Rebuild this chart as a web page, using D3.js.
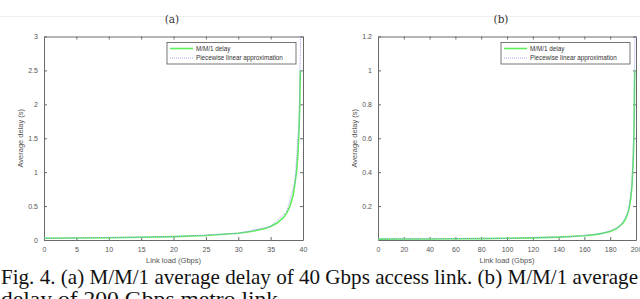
<!DOCTYPE html>
<html>
<head>
<meta charset="utf-8">
<script src="https://cdn.jsdelivr.net/npm/d3@7"></script>
<style>
  body { margin: 0; background: #fff; }
  svg { display: block; }
</style>
</head>
<body>
<div id="chart"></div>
<script>
// panel (a): 40 Gbps access link
const loadA = [0, 5, 10, 15, 20, 25, 30, 32, 34, 35, 36, 37, 37.5, 38, 38.5, 39, 39.2, 39.4, 39.5, 39.6]
const delayA = [0.025, 0.029, 0.033, 0.04, 0.05, 0.067, 0.1, 0.125, 0.167, 0.2, 0.25, 0.333, 0.4, 0.5, 0.667, 1.0, 1.25, 1.667, 2.0, 2.5]
const approxLoadA = [0, 20, 30, 35, 37.5, 38.75, 39.4, 39.7]
const approxDelayA = [0.025, 0.05, 0.1, 0.2, 0.42, 0.85, 1.75, 3.3]
const xTicksA = [0, 5, 10, 15, 20, 25, 30, 35, 40]
const yTicksA = [0, 0.5, 1, 1.5, 2, 2.5, 3]

// panel (b): 200 Gbps metro link
const loadB = [0, 20, 40, 60, 80, 100, 120, 140, 160, 170, 180, 185, 190, 192, 194, 195, 196, 197, 198, 198.5, 199]
const delayB = [0.005, 0.0056, 0.0063, 0.0071, 0.0083, 0.01, 0.0125, 0.0167, 0.025, 0.033, 0.05, 0.067, 0.1, 0.125, 0.167, 0.2, 0.25, 0.333, 0.5, 0.667, 1.0]
const approxLoadB = [0, 100, 150, 175, 187.5, 193.75, 196.9, 198.4, 199.3]
const approxDelayB = [0.005, 0.01, 0.02, 0.04, 0.08, 0.16, 0.32, 0.64, 1.3]
const xTicksB = [0, 20, 40, 60, 80, 100, 120, 140, 160, 180, 200]
const yTicksB = [0.2, 0.4, 0.6, 0.8, 1, 1.2]

const legendLabels = ['M/M/1 delay', 'Piecewise linear approximation']
const caption1 = 'Fig. 4. (a) M/M/1 average delay of 40 Gbps access link. (b) M/M/1 average'
const caption2 = 'delay of 200 Gbps metro link.'

const width = 640
const height = 299
const axisColor = '#6a6a6a'
const greenColor = '#5ded5d'
const blueColor = '#8c8cf5'
const tickFont = 'Liberation Sans, Arial, sans-serif'
const numFormat = d3.format('~g')

const svg = d3.select('#chart').append('svg')
    .attr('width', width)
    .attr('height', height)

// faint rule under the previous text block
svg.append('line')
    .attr('x1', 0).attr('x2', width)
    .attr('y1', 16.5).attr('y2', 16.5)
    .attr('stroke', '#eeeeee')

function drawPanel (opts) {
    const x = d3.scaleLinear().domain(opts.xDomain).range([opts.left, opts.right])
    const y = d3.scaleLinear().domain(opts.yDomain).range([opts.bottom, opts.top])
    const g = svg.append('g')

    // title
    svg.append('text')
        .attr('x', opts.titleX)
        .attr('y', 23)
        .attr('text-anchor', 'middle')
        .attr('font-family', 'DejaVu Serif, Liberation Serif, serif')
        .attr('font-size', 10.5)
        .attr('fill', '#333')
        .text(opts.title)

    const clipId = 'clip-' + opts.title.replace(/\W/g, '')
    svg.append('clipPath').attr('id', clipId)
        .append('rect')
        .attr('x', opts.left).attr('y', opts.top)
        .attr('width', opts.right - opts.left).attr('height', opts.bottom - opts.top)

    // axes, MATLAB style: inward ticks on all four sides
    const axisBottom = d3.axisBottom(x).tickValues(opts.xTicks).tickFormat(numFormat)
        .tickSizeInner(-3).tickSizeOuter(0).tickPadding(7)
    const axisTop = d3.axisTop(x).tickValues(opts.xTicks).tickSizeInner(-3).tickSizeOuter(0).tickFormat('')
    const axisLeft = d3.axisLeft(y).tickValues(opts.yTicks).tickFormat(numFormat)
        .tickSizeInner(-3).tickSizeOuter(0).tickPadding(6)
    const axisRight = d3.axisRight(y).tickValues(opts.yTicks).tickSizeInner(-3).tickSizeOuter(0).tickFormat('')

    const axes = [
        g.append('g').attr('transform', `translate(0,${opts.bottom})`).call(axisBottom),
        g.append('g').attr('transform', `translate(0,${opts.top})`).call(axisTop),
        g.append('g').attr('transform', `translate(${opts.left},0)`).call(axisLeft),
        g.append('g').attr('transform', `translate(${opts.right},0)`).call(axisRight)
    ]
    axes.forEach(a => {
        a.select('.domain').attr('stroke', axisColor)
        a.selectAll('.tick line').attr('stroke', axisColor)
        a.selectAll('.tick text')
            .attr('fill', '#555')
            .attr('font-family', tickFont)
            .attr('font-size', 7)
    })

    const line = d3.line().x(d => x(d[0])).y(d => y(d[1]))

    const plot = g.append('g').attr('clip-path', `url(#${clipId})`)
    plot.append('path')
        .datum(opts.load.map((v, i) => [v, opts.delay[i]]))
        .attr('fill', 'none')
        .attr('stroke', greenColor)
        .attr('stroke-width', 1.6)
        .attr('d', line)
    plot.append('path')
        .datum(opts.approxLoad.map((v, i) => [v, opts.approxDelay[i]]))
        .attr('fill', 'none')
        .attr('stroke', blueColor)
        .attr('stroke-width', 0.8)
        .attr('stroke-dasharray', '1,1')
        .attr('d', line)

    // axis labels
    svg.append('text')
        .attr('x', (opts.left + opts.right) / 2)
        .attr('y', 263)
        .attr('text-anchor', 'middle')
        .attr('font-family', tickFont)
        .attr('font-size', 7.5)
        .attr('fill', '#555')
        .text('Link load (Gbps)')
    svg.append('text')
        .attr('transform', `translate(${opts.yLabelX},${(opts.top + opts.bottom) / 2}) rotate(-90)`)
        .attr('text-anchor', 'middle')
        .attr('font-family', tickFont)
        .attr('font-size', 7.5)
        .attr('fill', '#555')
        .text('Average delay (s)')

    // legend
    const lg = g.append('g').attr('transform', `translate(${opts.legendX},42.5)`)
    lg.append('rect')
        .attr('width', 129).attr('height', 21.5)
        .attr('fill', '#fff')
        .attr('stroke', '#555')
        .attr('stroke-width', 0.8)
    lg.append('line')
        .attr('x1', 3).attr('x2', 26).attr('y1', 6).attr('y2', 6)
        .attr('stroke', greenColor).attr('stroke-width', 1.6)
    lg.append('line')
        .attr('x1', 3).attr('x2', 26).attr('y1', 15.5).attr('y2', 15.5)
        .attr('stroke', blueColor).attr('stroke-width', 0.8).attr('stroke-dasharray', '1,1')
    legendLabels.forEach((label, i) => {
        lg.append('text')
            .attr('x', 29)
            .attr('y', 8.3 + i * 9.5)
            .attr('font-family', tickFont)
            .attr('font-size', 6.3)
            .attr('fill', '#333')
            .text(label)
    })
}

drawPanel({
    title: '(a)', titleX: 172,
    left: 44, right: 303, top: 36.5, bottom: 240,
    xDomain: [0, 40], yDomain: [0, 3],
    xTicks: xTicksA, yTicks: yTicksA,
    load: loadA, delay: delayA, approxLoad: approxLoadA, approxDelay: approxDelayA,
    yLabelX: 23, legendX: 167
})

drawPanel({
    title: '(b)', titleX: 501,
    left: 378, right: 636, top: 36.5, bottom: 240,
    xDomain: [0, 200], yDomain: [0, 1.2],
    xTicks: xTicksB, yTicks: yTicksB,
    load: loadB, delay: delayB, approxLoad: approxLoadB, approxDelay: approxDelayB,
    yLabelX: 357, legendX: 501
})

// caption
svg.append('text')
    .attr('x', 1)
    .attr('y', 284)
    .attr('font-family', 'Liberation Serif, Times New Roman, serif')
    .attr('font-size', 21)
    .attr('fill', '#111')
    .attr('textLength', 637)
    .attr('lengthAdjust', 'spacingAndGlyphs')
    .text(caption1)
svg.append('text')
    .attr('x', 1)
    .attr('y', 306)
    .attr('font-family', 'Liberation Serif, Times New Roman, serif')
    .attr('font-size', 21)
    .attr('fill', '#111')
    .attr('textLength', 283)
    .attr('lengthAdjust', 'spacingAndGlyphs')
    .text(caption2)
</script>
</body>
</html>
